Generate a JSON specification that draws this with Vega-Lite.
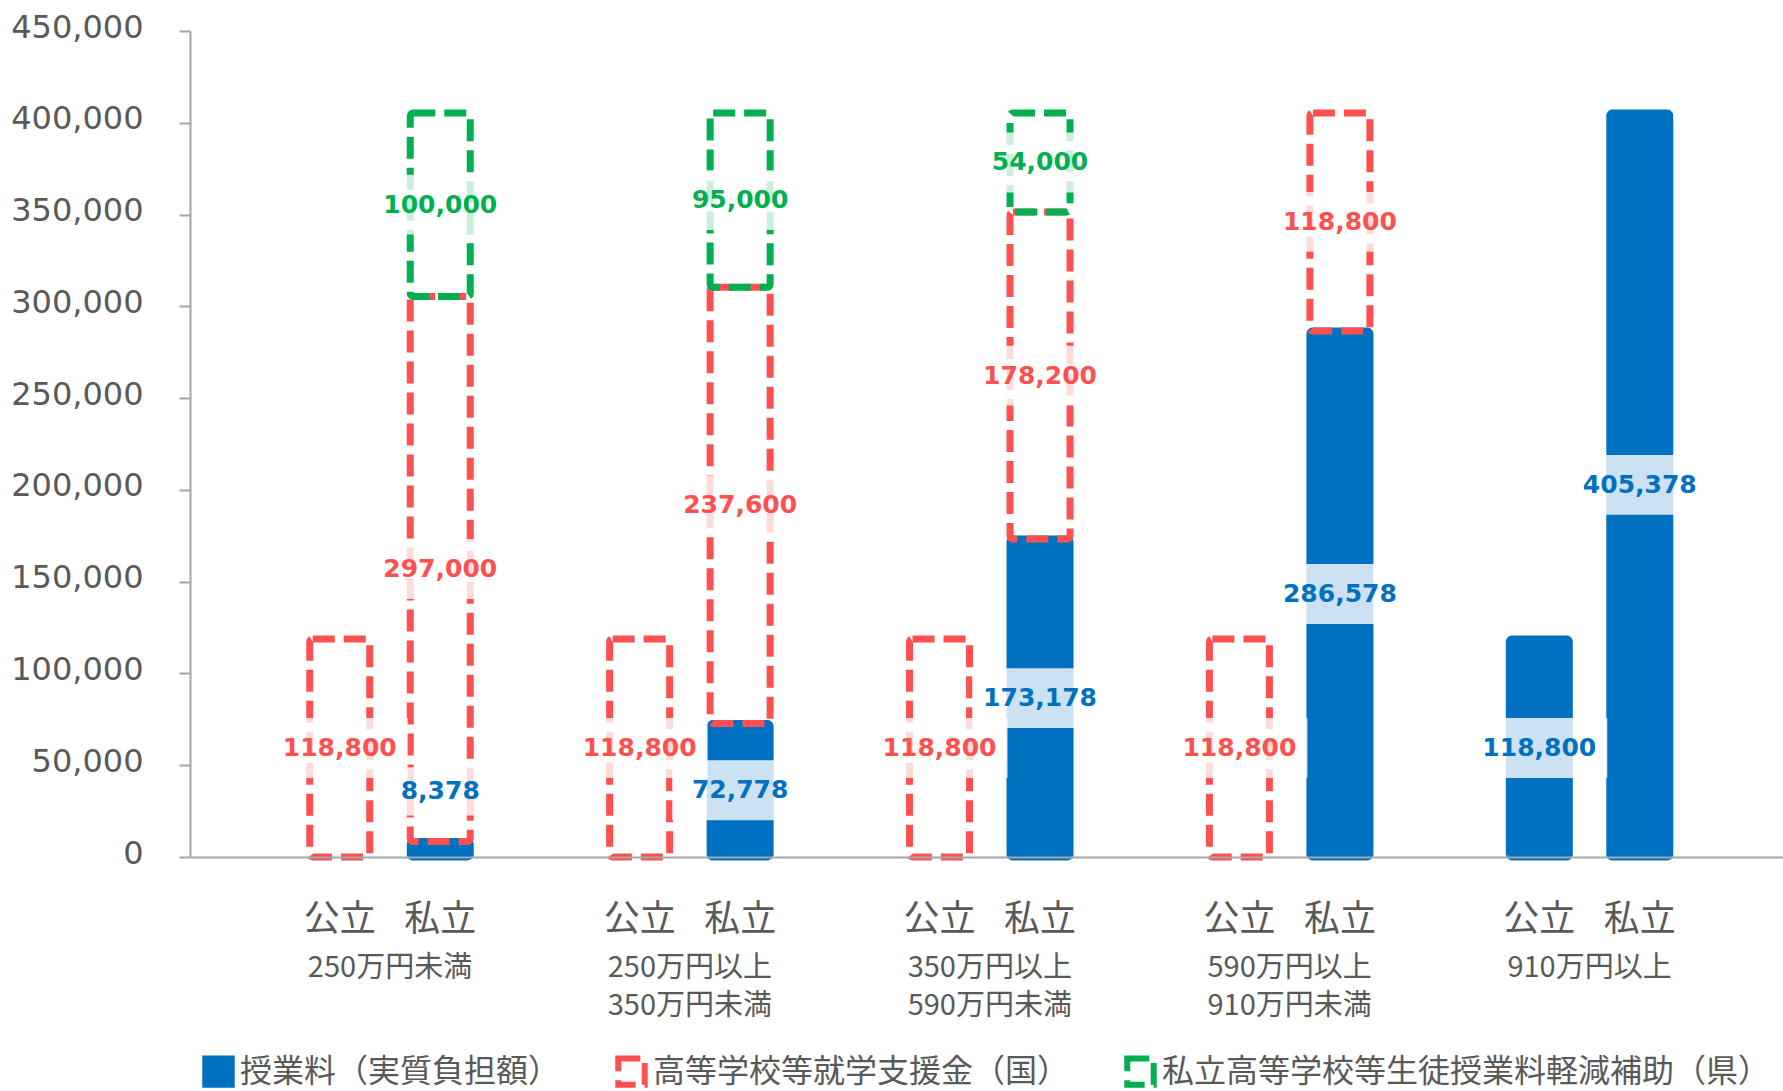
{
  "$schema": "https://vega.github.io/schema/vega-lite/v6.json",
  "width": 1593,
  "height": 826,
  "autosize": {"type": "none"},
  "padding": {"left": 190, "top": 31, "right": 0, "bottom": 234},
  "background": "white",
  "config": {
    "view": {"stroke": null},
    "legend": {
      "symbolType": "square",
      "symbolSize": 700,
      "symbolStrokeWidth": 6,
      "labelFont": "Noto Sans CJK JP",
      "labelFontSize": 32,
      "labelColor": "#595959",
      "labelOffset": 5,
      "labelLimit": 1000,
      "columnPadding": 45
    }
  },
  "data": {
    "values": [
      {"group": "250万円未満", "school": "公立", "kind": "高等学校等就学支援金（国）", "k": 2, "value": 118800},
      {"group": "250万円未満", "school": "私立", "kind": "授業料（実質負担額）", "k": 1, "value": 8378},
      {"group": "250万円未満", "school": "私立", "kind": "高等学校等就学支援金（国）", "k": 2, "value": 297000},
      {"group": "250万円未満", "school": "私立", "kind": "私立高等学校等生徒授業料軽減補助（県）", "k": 3, "value": 100000},
      {"group": "250万円以上350万円未満", "school": "公立", "kind": "高等学校等就学支援金（国）", "k": 2, "value": 118800},
      {"group": "250万円以上350万円未満", "school": "私立", "kind": "授業料（実質負担額）", "k": 1, "value": 72778},
      {"group": "250万円以上350万円未満", "school": "私立", "kind": "高等学校等就学支援金（国）", "k": 2, "value": 237600},
      {"group": "250万円以上350万円未満", "school": "私立", "kind": "私立高等学校等生徒授業料軽減補助（県）", "k": 3, "value": 95000},
      {"group": "350万円以上590万円未満", "school": "公立", "kind": "高等学校等就学支援金（国）", "k": 2, "value": 118800},
      {"group": "350万円以上590万円未満", "school": "私立", "kind": "授業料（実質負担額）", "k": 1, "value": 173178},
      {"group": "350万円以上590万円未満", "school": "私立", "kind": "高等学校等就学支援金（国）", "k": 2, "value": 178200},
      {"group": "350万円以上590万円未満", "school": "私立", "kind": "私立高等学校等生徒授業料軽減補助（県）", "k": 3, "value": 54000},
      {"group": "590万円以上910万円未満", "school": "公立", "kind": "高等学校等就学支援金（国）", "k": 2, "value": 118800},
      {"group": "590万円以上910万円未満", "school": "私立", "kind": "授業料（実質負担額）", "k": 1, "value": 286578},
      {"group": "590万円以上910万円未満", "school": "私立", "kind": "高等学校等就学支援金（国）", "k": 2, "value": 118800},
      {"group": "910万円以上", "school": "公立", "kind": "授業料（実質負担額）", "k": 1, "value": 118800},
      {"group": "910万円以上", "school": "私立", "kind": "授業料（実質負担額）", "k": 1, "value": 405378}
    ]
  },
  "transform": [
    {"stack": "value", "groupby": ["group", "school"], "sort": [{"field": "k", "order": "ascending"}], "as": ["v0", "v1"]}
  ],
  "encoding": {
    "x": {
      "field": "group",
      "type": "nominal",
      "sort": ["250万円未満", "250万円以上350万円未満", "350万円以上590万円未満", "590万円以上910万円未満", "910万円以上"],
      "scale": {"paddingInner": 0, "paddingOuter": 0.156, "align": 0.535},
      "axis": {
        "title": null,
        "ticks": false,
        "zindex": 1,
        "domainColor": "#A6A6A6",
        "domainWidth": 2,
        "labelAngle": 0,
        "labelFont": "Noto Sans CJK JP",
        "labelFontSize": 29,
        "labelColor": "#595959",
        "labelPadding": 96,
        "labelLineHeight": 38,
        "labelBound": false,
        "labelOverlap": false,
        "labelExpr": "split(replace(datum.label, '以上', '以上|'), '|')"
      }
    },
    "xOffset": {
      "field": "school",
      "type": "nominal",
      "sort": ["公立", "私立"],
      "scale": {"paddingInner": 0.403, "paddingOuter": 0.6935}
    }
  },
  "layer": [
    {
      "transform": [{"filter": "datum.k == 1"}],
      "mark": {"type": "bar", "stroke": "#0070C0", "strokeWidth": 7, "cornerRadius": 3},
      "encoding": {
        "y": {
          "field": "v0",
          "type": "quantitative",
          "scale": {"domain": [0, 450000], "nice": false},
          "axis": {
            "title": null,
            "values": [0, 50000, 100000, 150000, 200000, 250000, 300000, 350000, 400000, 450000],
            "format": ",d",
            "grid": false,
            "domainColor": "#A6A6A6",
            "domainWidth": 2,
            "tickColor": "#A6A6A6",
            "tickWidth": 2,
            "tickSize": 11,
            "labelFont": "DejaVu Sans",
            "labelFontSize": 32,
            "labelColor": "#595959",
            "labelPadding": 36,
            "labelOffset": -4,
            "labelFlush": false
          }
        },
        "y2": {"field": "v1"},
        "fill": {
          "field": "kind",
          "type": "nominal",
          "scale": {"domain": ["授業料（実質負担額）", "高等学校等就学支援金（国）", "私立高等学校等生徒授業料軽減補助（県）"], "range": ["#0070C0", "transparent", "transparent"]},
          "legend": {"title": null, "orient": "none", "legendX": 12, "legendY": 1024, "direction": "horizontal"}
        },
        "stroke": {
          "field": "kind",
          "type": "nominal",
          "scale": {"domain": ["授業料（実質負担額）", "高等学校等就学支援金（国）", "私立高等学校等生徒授業料軽減補助（県）"], "range": ["#0070C0", "#FF5050", "#00B050"]},
          "legend": {"title": null, "orient": "none", "legendX": 12, "legendY": 1024, "direction": "horizontal"}
        },
        "strokeDash": {
          "field": "kind",
          "type": "nominal",
          "scale": {"domain": ["授業料（実質負担額）", "高等学校等就学支援金（国）", "私立高等学校等生徒授業料軽減補助（県）"], "range": [[1, 0], [22, 9], [22, 9]]},
          "legend": {"title": null, "orient": "none", "legendX": 12, "legendY": 1024, "direction": "horizontal"}
        }
      }
    },
    {
      "transform": [{"filter": "datum.k == 2"}],
      "mark": {"type": "rect", "fill": null, "fillOpacity": 0, "stroke": "#FF5050", "strokeWidth": 7, "strokeDash": [22, 9], "cornerRadius": 3},
      "encoding": {
        "y": {"field": "v0", "type": "quantitative"},
        "y2": {"field": "v1"}
      }
    },
    {
      "transform": [{"filter": "datum.k == 3"}],
      "mark": {"type": "rect", "fill": null, "fillOpacity": 0, "stroke": "#00B050", "strokeWidth": 7, "strokeDash": [22, 9], "cornerRadius": 3},
      "encoding": {
        "y": {"field": "v0", "type": "quantitative"},
        "y2": {"field": "v1"}
      }
    },
    {
      "mark": {"type": "point", "filled": true, "color": "white", "strokeWidth": 0, "shape": "M-1,-0.44H1V0.44H-1Z", "size": 18496},
      "encoding": {
        "y": {"field": "value", "type": "quantitative", "stack": "zero", "bandPosition": 0.5},
        "order": {"field": "k", "type": "quantitative"},
        "detail": {"field": "kind"},
        "opacity": {"condition": {"test": "datum.value < 20000", "value": 0}, "value": 0.8}
      }
    },
    {
      "transform": [{"filter": "datum.value < 20000"}],
      "mark": {"type": "point", "filled": true, "color": "white", "strokeWidth": 0, "opacity": 0.8, "shape": "M-1,-0.44H1V0.44H-1Z", "size": 12000, "yOffset": -58},
      "encoding": {
        "y": {"field": "value", "type": "quantitative", "stack": "zero", "bandPosition": 0.5},
        "order": {"field": "k", "type": "quantitative"},
        "detail": {"field": "kind"}
      }
    },
    {
      "mark": {"type": "text", "font": "DejaVu Sans", "fontWeight": "bold", "fontSize": 25, "baseline": "middle", "align": "center"},
      "encoding": {
        "y": {"field": "value", "type": "quantitative", "stack": "zero", "bandPosition": 0.5},
        "order": {"field": "k", "type": "quantitative"},
        "color": {
          "field": "kind",
          "type": "nominal",
          "scale": {"domain": ["授業料（実質負担額）", "高等学校等就学支援金（国）", "私立高等学校等生徒授業料軽減補助（県）"], "range": ["#0070C0", "#FF5050", "#00B050"]},
          "legend": null
        },
        "text": {"condition": {"test": "datum.value < 20000", "value": ""}, "field": "value", "type": "quantitative", "format": ","}
      }
    },
    {
      "transform": [{"filter": "datum.value < 20000"}],
      "mark": {"type": "text", "font": "DejaVu Sans", "fontWeight": "bold", "fontSize": 25, "baseline": "middle", "align": "center", "dy": -58, "color": "#0070C0"},
      "encoding": {
        "y": {"field": "value", "type": "quantitative", "stack": "zero", "bandPosition": 0.5},
        "order": {"field": "k", "type": "quantitative"},
        "detail": {"field": "kind"},
        "text": {"field": "value", "type": "quantitative", "format": ","}
      }
    },
    {
      "transform": [{"aggregate": [{"op": "count", "as": "n"}], "groupby": ["group", "school"]}],
      "mark": {"type": "text", "font": "Noto Sans CJK JP", "fontSize": 36, "color": "#595959", "baseline": "middle", "align": "center", "dy": 63},
      "encoding": {
        "y": {"datum": 0, "type": "quantitative"},
        "text": {"field": "school", "type": "nominal"}
      }
    }
  ]
}
